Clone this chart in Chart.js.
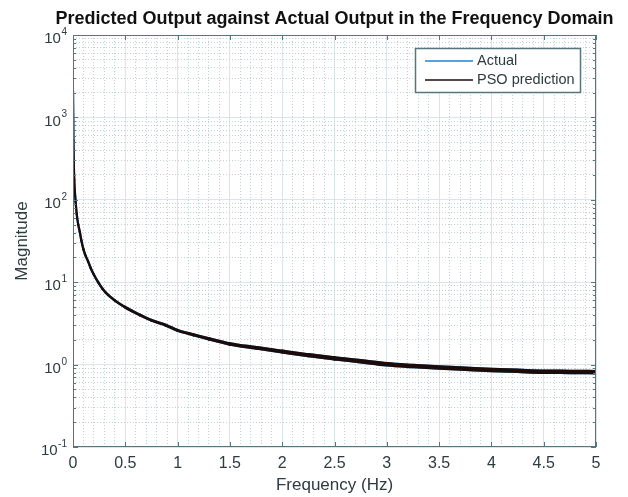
<!DOCTYPE html>
<html>
<head>
<meta charset="utf-8">
<script src="https://cdn.jsdelivr.net/npm/chart.js@4.4.1/dist/chart.umd.min.js"></script>
<style>
  html, body { margin: 0; padding: 0; background: #ffffff; }
  #wrap { width: 628px; height: 497px; }
</style>
</head>
<body>
<div id="wrap"><canvas id="freqChart" width="628" height="497"></canvas></div>
<script>
// values
const freqHz = [0, 0.004, 0.008, 0.012, 0.018, 0.025, 0.035, 0.05, 0.065, 0.08, 0.1, 0.12, 0.144, 0.17, 0.2,
  0.24, 0.28, 0.335, 0.4, 0.495, 0.56, 0.64, 0.75, 0.89, 1.0, 1.15, 1.3, 1.5, 1.75, 2.0, 2.25, 2.5, 2.75,
  3.0, 3.25, 3.5, 3.75, 4.0, 4.25, 4.5, 4.75, 5.0];
const actualMag = [2100, 520, 260, 175, 125, 95, 68, 50, 41, 32, 25, 21, 17.9, 14.8, 12.3,
  10, 8.4, 7, 6, 5, 4.5, 4, 3.45, 3, 2.6, 2.3, 2.05, 1.78, 1.6, 1.44, 1.3, 1.19, 1.1,
  1.01, 0.96, 0.92, 0.89, 0.86, 0.84, 0.82, 0.815, 0.81];
const psoMag = [2100, 520, 260, 175, 125, 95, 68, 50, 41, 32, 25, 21, 17.9, 14.8, 12.3,
  10, 8.4, 7, 6, 5, 4.5, 4, 3.45, 3, 2.6, 2.3, 2.05, 1.78, 1.6, 1.44, 1.3, 1.19, 1.1,
  1.01, 0.96, 0.92, 0.89, 0.86, 0.84, 0.82, 0.815, 0.81];
const xTickLabels = ["0", "0.5", "1", "1.5", "2", "2.5", "3", "3.5", "4", "4.5", "5"];
const yTickExponents = ["-1", "0", "1", "2", "3", "4"];

const AXIS = "#56767e";
const TEXT = "#2e3b3f";
const GRID = "#dbe5e8";
const MINOR = "#c3d1d5";
const FONT = "'Liberation Sans', Arial, sans-serif";

const isDecade = (v) => Math.abs(Math.log10(v) - Math.round(Math.log10(v))) < 1e-6;
const isHalf = (v) => Math.abs(v * 2 - Math.round(v * 2)) < 1e-6;

function lineWidthAt(c) {
  // trace gets thicker (noisier) towards high frequencies
  return 2.2 + 2.3 * Math.min(1, c.p0.parsed.x / 2.5);
}

const matlabFrame = {
  id: "matlabFrame",
  afterDraw(chart) {
    const { ctx, chartArea: a, scales } = chart;
    ctx.save();
    ctx.strokeStyle = AXIS;
    ctx.lineWidth = 1;
    const seg = (x1, y1, x2, y2) => {
      ctx.beginPath();
      ctx.moveTo(x1, y1);
      ctx.lineTo(x2, y2);
      ctx.stroke();
    };
    ctx.strokeRect(a.left + 0.5, a.top + 0.5, a.right - a.left - 1, a.bottom - a.top - 1);

    // inward ticks on all four sides
    scales.x.ticks.forEach((t) => {
      const px = Math.round(scales.x.getPixelForValue(t.value)) + 0.5;
      seg(px, a.bottom, px, a.bottom - 5);
      seg(px, a.top, px, a.top + 5);
    });
    scales.y.ticks.concat(scales.yMinor.ticks).forEach((t) => {
      const py = Math.round(scales.y.getPixelForValue(t.value)) + 0.5;
      const len = isDecade(t.value) ? 5 : 3;
      seg(a.left, py, a.left + len, py);
      seg(a.right, py, a.right - len, py);
    });

    // y labels 10^n with superscript
    ctx.fillStyle = TEXT;
    scales.y.ticks.forEach((t, i) => {
      const py = scales.y.getPixelForValue(t.value);
      const ex = yTickExponents[i];
      ctx.font = "10px " + FONT;
      const ew = ctx.measureText(ex).width;
      const right = 67;
      ctx.textAlign = "left";
      ctx.textBaseline = "alphabetic";
      ctx.fillText(ex, right - ew, py + 0);
      ctx.font = "15px " + FONT;
      ctx.textAlign = "right";
      ctx.textBaseline = "middle";
      ctx.fillText("10", right - ew - 0.5, py + 4);
    });

    // title
    ctx.fillStyle = "#111111";
    ctx.font = "bold 18px " + FONT;
    ctx.textAlign = "center";
    ctx.textBaseline = "alphabetic";
    ctx.fillText("Predicted Output against Actual Output in the Frequency Domain", (a.left + a.right) / 2, 24);

    // axis titles
    ctx.fillStyle = TEXT;
    ctx.font = "17px " + FONT;
    ctx.textBaseline = "middle";
    ctx.fillText("Frequency (Hz)", (a.left + a.right) / 2, 485);
    ctx.save();
    ctx.translate(22, (a.top + a.bottom) / 2);
    ctx.rotate(-Math.PI / 2);
    ctx.fillText("Magnitude", 0, 0);
    ctx.restore();

    // legend
    const lx = 415, ly = 48, lw = 165, lh = 44;
    ctx.fillStyle = "#ffffff";
    ctx.fillRect(lx, ly, lw, lh);
    ctx.strokeStyle = AXIS;
    ctx.lineWidth = 1.5;
    ctx.strokeRect(lx + 0.5, ly + 0.5, lw, lh);
    ctx.font = "14.5px " + FONT;
    ctx.textAlign = "left";
    ctx.textBaseline = "middle";
    chart.data.datasets.forEach((ds, i) => {
      const yy = Math.round(ly + 13 + i * 19);
      ctx.strokeStyle = ds.borderColor;
      ctx.lineWidth = 1.4;
      seg(425, yy, 473, yy);
      ctx.fillStyle = TEXT;
      ctx.fillText(ds.label, 477, yy);
    });
    ctx.restore();
  }
};

const ctx = document.getElementById("freqChart");
new Chart(ctx, {
  type: "line",
  data: {
    datasets: [
      {
        label: "Actual",
        data: freqHz.map((f, i) => ({ x: f, y: actualMag[i] })),
        borderColor: "#1a86d6",
        borderWidth: 3,
        borderCapStyle: "round",
        borderJoinStyle: "round",
        segment: { borderWidth: lineWidthAt },
        cubicInterpolationMode: "monotone",
        pointRadius: 0,
        order: 2,
      },
      {
        label: "PSO prediction",
        data: freqHz.map((f, i) => ({ x: f, y: psoMag[i] })),
        borderColor: "#1c0b08",
        borderWidth: 3,
        borderCapStyle: "round",
        borderJoinStyle: "round",
        segment: { borderWidth: lineWidthAt },
        cubicInterpolationMode: "monotone",
        pointRadius: 0,
        order: 1,
      },
    ],
  },
  options: {
    responsive: false,
    animation: false,
    layout: { padding: { left: 0, right: 32, top: 35, bottom: 0 } },
    plugins: {
      legend: { display: false },
      title: { display: false },
      tooltip: { enabled: false },
    },
    scales: {
      x: {
        type: "linear",
        min: 0,
        max: 5,
        position: "bottom",
        ticks: {
          stepSize: 0.5,
          autoSkip: false,
          maxRotation: 0,
          padding: 7,
          color: TEXT,
          font: { size: 16, family: FONT },
          callback: function (value, index) {
            return xTickLabels[index];
          },
        },
        grid: { color: GRID, drawTicks: false },
        border: { display: false },
        afterFit: (s) => { s.height = 50; },
      },
      xMinor: {
        type: "linear",
        min: 0,
        max: 5,
        position: "bottom",
        ticks: { display: false, stepSize: 0.1, autoSkip: false },
        grid: {
          drawTicks: false,
          color: (c) => (c.tick && isHalf(c.tick.value) ? "rgba(0,0,0,0)" : MINOR),
        },
        border: { display: false, dash: [1, 2] },
        afterFit: (s) => { s.height = 0; },
      },
      y: {
        type: "logarithmic",
        min: 0.1,
        max: 10000,
        position: "left",
        ticks: { display: false, autoSkip: false },
        afterBuildTicks: (s) => { s.ticks = s.ticks.filter((t) => isDecade(t.value)); },
        grid: { color: GRID, drawTicks: false },
        border: { display: false },
        afterFit: (s) => { s.width = 73; },
      },
      yMinor: {
        type: "logarithmic",
        min: 0.1,
        max: 10000,
        position: "left",
        ticks: { display: false, autoSkip: false },
        afterBuildTicks: (s) => {
          s.ticks = s.ticks.filter((t) => {
            const m = t.value / Math.pow(10, Math.floor(Math.log10(t.value) + 1e-9));
            return !isDecade(t.value) && Math.abs(m - Math.round(m)) < 1e-6;
          });
        },
        grid: { color: MINOR, drawTicks: false },
        border: { display: false, dash: [1, 2] },
        afterFit: (s) => { s.width = 0; },
      },
    },
  },
  plugins: [matlabFrame],
});
</script>
</body>
</html>
